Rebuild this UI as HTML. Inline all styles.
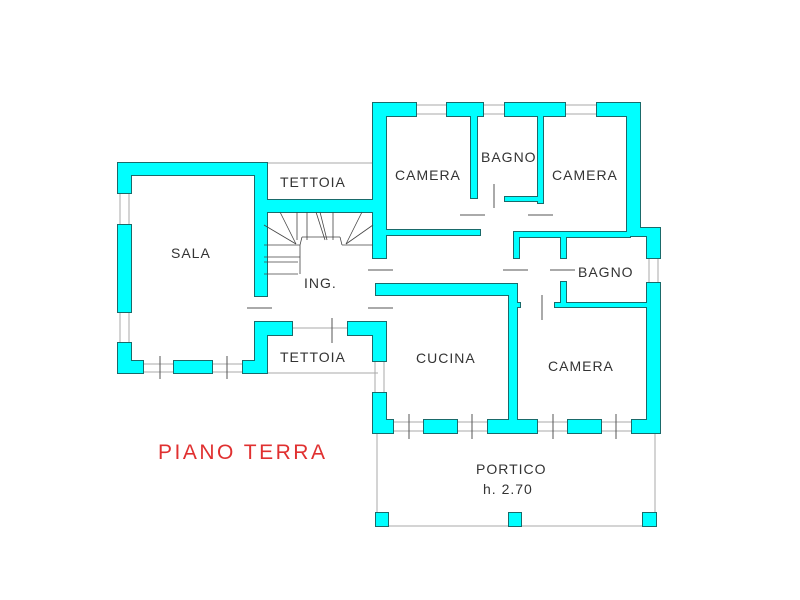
<!DOCTYPE html>
<html><head><style>body{margin:0;background:#fff}svg{display:block}</style></head><body>
<svg width="800" height="600" viewBox="0 0 800 600" xmlns="http://www.w3.org/2000/svg">
<defs>
<g id="walls">
<rect x="118" y="163" width="149" height="12"/>
<rect x="118" y="163" width="13" height="30"/>
<rect x="118" y="225" width="13" height="87"/>
<rect x="118" y="343" width="13" height="30"/>
<rect x="118" y="361" width="25" height="12"/>
<rect x="174" y="361" width="38" height="12"/>
<rect x="243" y="361" width="24" height="12"/>
<rect x="255" y="163" width="12" height="133"/>
<rect x="255" y="200" width="131" height="12"/>
<rect x="373" y="103" width="13" height="155"/>
<rect x="255" y="322" width="12" height="51"/>
<rect x="255" y="322" width="37" height="13"/>
<rect x="348" y="322" width="38" height="13"/>
<rect x="373" y="322" width="13" height="39"/>
<rect x="373" y="103" width="43" height="13"/>
<rect x="447" y="103" width="36" height="13"/>
<rect x="505" y="103" width="60" height="13"/>
<rect x="597" y="103" width="43" height="13"/>
<rect x="627" y="103" width="13" height="133"/>
<rect x="627" y="228" width="33" height="8"/>
<rect x="647" y="228" width="13" height="30"/>
<rect x="647" y="283" width="13" height="150"/>
<rect x="386" y="230" width="94" height="5"/>
<rect x="471" y="113" width="6" height="85"/>
<rect x="538" y="113" width="5" height="90"/>
<rect x="505" y="197" width="38" height="4"/>
<rect x="514" y="232" width="116" height="5"/>
<rect x="514" y="232" width="5" height="26"/>
<rect x="561" y="234" width="5" height="24"/>
<rect x="561" y="282" width="5" height="25"/>
<rect x="555" y="303" width="95" height="4"/>
<rect x="376" y="284" width="140" height="11"/>
<rect x="509" y="284" width="8" height="139"/>
<rect x="509" y="303" width="11" height="4"/>
<rect x="373" y="393" width="13" height="40"/>
<rect x="373" y="420" width="20" height="13"/>
<rect x="424" y="420" width="33" height="13"/>
<rect x="488" y="420" width="49" height="13"/>
<rect x="568" y="420" width="33" height="13"/>
<rect x="632" y="420" width="28" height="13"/>
<rect x="376" y="513" width="12" height="13"/>
<rect x="509" y="513" width="12" height="13"/>
<rect x="643" y="513" width="13" height="13"/>
</g>
</defs>
<rect width="800" height="600" fill="#fff"/>
<g fill="none" stroke="#aaa" stroke-width="1">
<line x1="120" y1="193" x2="120" y2="225"/><line x1="129" y1="193" x2="129" y2="225"/>
<line x1="120" y1="312" x2="120" y2="343"/><line x1="129" y1="312" x2="129" y2="343"/>
<line x1="143" y1="364" x2="267" y2="364"/><line x1="143" y1="372" x2="267" y2="372"/>
<line x1="416" y1="105" x2="597" y2="105"/><line x1="416" y1="114" x2="597" y2="114"/>
<line x1="649" y1="258" x2="649" y2="283"/><line x1="658" y1="258" x2="658" y2="283"/>
<line x1="375" y1="361" x2="375" y2="393"/><line x1="384" y1="361" x2="384" y2="393"/>
<line x1="393" y1="422" x2="632" y2="422"/><line x1="393" y1="431" x2="632" y2="431"/>
<line x1="292" y1="328" x2="348" y2="328"/>
<line x1="267" y1="163" x2="373" y2="163"/>
<line x1="267" y1="373" x2="378" y2="373"/>
<line x1="377" y1="433" x2="377" y2="527"/><line x1="655" y1="433" x2="655" y2="527"/>
<line x1="377" y1="526" x2="655" y2="526"/>
</g>
<use href="#walls" fill="#1a6a6a" stroke="#1a6a6a" stroke-width="2"/>
<use href="#walls" fill="#00ffff"/>
<g stroke="#444" stroke-width="0.8" fill="none">
<line x1="264" y1="245" x2="300" y2="245"/><line x1="264" y1="257" x2="300" y2="257"/>
<line x1="264" y1="274" x2="298" y2="274"/><line x1="300" y1="245" x2="300" y2="274"/>
<line x1="264" y1="262" x2="298" y2="262"/>
<line x1="300" y1="245" x2="302" y2="237"/>
<line x1="302" y1="237" x2="340" y2="237"/><line x1="340" y1="237" x2="342" y2="245"/>
<line x1="342" y1="245" x2="373" y2="245"/>
<line x1="264" y1="225" x2="296" y2="244"/><line x1="280" y1="212" x2="296" y2="244"/>
<line x1="297" y1="212" x2="297" y2="240"/><line x1="307" y1="212" x2="307" y2="240"/>
<line x1="316" y1="212" x2="325" y2="240"/><line x1="320" y1="212" x2="327" y2="240"/>
<line x1="333" y1="212" x2="333" y2="240"/>
<line x1="362" y1="212" x2="346" y2="244"/><line x1="373" y1="225" x2="346" y2="244"/>
</g>
<g stroke="#555" stroke-width="1">
<line x1="247" y1="308" x2="272" y2="308"/>
<line x1="368" y1="270" x2="393" y2="270"/><line x1="368" y1="308" x2="393" y2="308"/>
<line x1="332" y1="318" x2="332" y2="343"/>
<line x1="160" y1="356" x2="160" y2="379"/><line x1="227" y1="356" x2="227" y2="379"/>
<line x1="494" y1="184" x2="494" y2="208"/>
<line x1="460" y1="215" x2="485" y2="215"/><line x1="528" y1="215" x2="553" y2="215"/>
<line x1="503" y1="270" x2="528" y2="270"/><line x1="550" y1="270" x2="575" y2="270"/>
<line x1="542" y1="295" x2="542" y2="320"/>
<line x1="409" y1="414" x2="409" y2="439"/><line x1="472" y1="414" x2="472" y2="439"/>
<line x1="553" y1="414" x2="553" y2="439"/><line x1="616" y1="414" x2="616" y2="439"/>
</g>
<g font-family="Liberation Sans, sans-serif" font-size="14" fill="#333" letter-spacing="1">
<text x="171" y="258">SALA</text>
<text x="280" y="187">TETTOIA</text>
<text x="304" y="288">ING.</text>
<text x="280" y="362">TETTOIA</text>
<text x="395" y="180">CAMERA</text>
<text x="481" y="162">BAGNO</text>
<text x="552" y="180">CAMERA</text>
<text x="578" y="277">BAGNO</text>
<text x="416" y="363">CUCINA</text>
<text x="548" y="371">CAMERA</text>
<text x="476" y="474">PORTICO</text>
<text x="483" y="494">h. 2.70</text>
</g>
<text x="158" y="459" font-family="Liberation Sans, sans-serif" font-size="21" fill="#e03030" letter-spacing="2.5">PIANO TERRA</text>
</svg>
</body></html>
